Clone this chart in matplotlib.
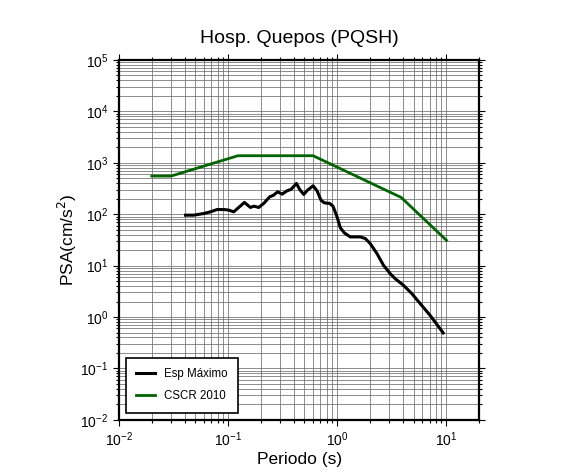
import numpy as np
import matplotlib
matplotlib.use("Agg")
import matplotlib.pyplot as plt
from matplotlib.ticker import LogLocator, NullFormatter

plt.rcParams['font.family'] = ['Liberation Sans', 'DejaVu Sans']

# Esp Maximo (periodo s, PSA cm/s2)
T_esp = [0.0407, 0.0484, 0.0598, 0.0689, 0.0793, 0.0912, 0.101, 0.1125, 0.125,
         0.141, 0.160, 0.172, 0.1905, 0.212, 0.240, 0.261, 0.284, 0.312, 0.347,
         0.377, 0.422, 0.452, 0.492, 0.535, 0.600, 0.652, 0.709, 0.760, 0.850,
         0.913, 0.994, 1.065, 1.159, 1.315, 1.623, 1.804, 2.00, 2.31, 2.65,
         3.05, 3.39, 4.04, 4.82, 5.75, 7.10, 9.33]
A_esp = [95.6, 95.6, 103, 111, 123, 123, 120, 111, 135,
         169, 135, 143, 135, 162, 217, 234, 272, 245, 285,
         303, 396, 303, 242, 294, 356, 285, 187, 166, 162,
         143, 88.6, 54.6, 43.2, 36.1, 36.1, 33.6, 26.9, 17.1, 10.1,
         6.98, 5.57, 4.13, 2.85, 1.82, 1.07, 0.49]

# CSCR 2010
T_cscr = [0.02, 0.03, 0.123, 0.6, 3.85, 10.0]
A_cscr = [550, 550, 1368, 1368, 211, 31]

fig = plt.figure(figsize=(5.86, 4.75), dpi=100)
ax = fig.add_axes([0.203, 0.116, 0.615, 0.758])

ax.plot(T_esp, A_esp, color='black', lw=2.2, label='Esp Máximo', zorder=3)
ax.plot(T_cscr, A_cscr, color='#006400', lw=2.0, label='CSCR 2010', zorder=3)

ax.set_xscale('log')
ax.set_yscale('log')
ax.set_xlim(0.01, 20)
ax.set_ylim(0.01, 1e5)

ax.xaxis.set_major_locator(LogLocator(base=10, numticks=10))
ax.xaxis.set_minor_locator(LogLocator(base=10, subs=np.arange(2, 10), numticks=20))
ax.yaxis.set_major_locator(LogLocator(base=10, numticks=10))
ax.yaxis.set_minor_locator(LogLocator(base=10, subs=np.arange(2, 10), numticks=20))
ax.xaxis.set_minor_formatter(NullFormatter())
ax.yaxis.set_minor_formatter(NullFormatter())

ax.grid(True, which='both', color='#6e6e6e', lw=0.55)
ax.set_axisbelow(True)

ax.tick_params(which='both', direction='out', top=True, right=True,
               labelsize=10, width=0.8, color='black')
ax.tick_params(which='major', length=4)
ax.tick_params(which='minor', length=2)
for s in ax.spines.values():
    s.set_linewidth(1.6)

ax.set_title('Hosp. Quepos (PQSH)', fontsize=14, pad=12)
ax.set_xlabel('Periodo (s)', fontsize=12.5, labelpad=2)
ax.set_ylabel('PSA(cm/s$^2$)', fontsize=12.5, labelpad=1)

leg = ax.legend(loc='lower left', fontsize=8.3, fancybox=False, framealpha=1,
                edgecolor='black', handlelength=1.6, borderpad=0.9,
                labelspacing=0.9, borderaxespad=0,
                bbox_to_anchor=(0.019, 0.02))
leg.get_frame().set_linewidth(1.2)

fig.savefig('out.png', dpi=100)
